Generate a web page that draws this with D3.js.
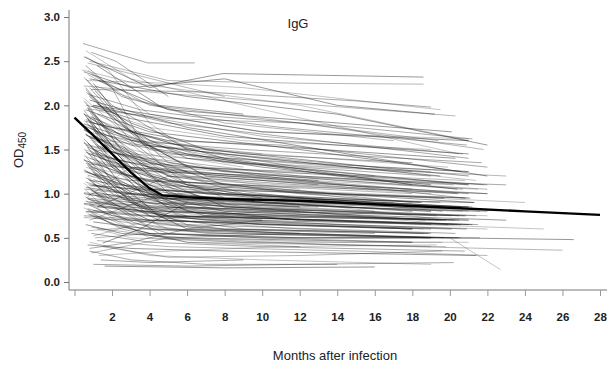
<!DOCTYPE html>
<html><head><meta charset="utf-8">
<script src="https://cdn.jsdelivr.net/npm/d3@7"></script>
<style>
html,body{margin:0;padding:0;background:#fff;}
svg{display:block;}
.tk text{font-family:"Liberation Sans Narrow","Arial Narrow","Liberation Sans",sans-serif;font-weight:bold;font-size:11.5px;fill:#222;}
</style></head>
<body><svg id="c" width="607" height="365"></svg>
<script>
const title = "IgG";
const xLabel = "Months after infection";
const xTicks = [0,2,4,6,8,10,12,14,16,18,20,22,24,26,28];
const yTicks = [0.0,0.5,1.0,1.5,2.0,2.5,3.0];
// each subject: month, OD450 pairs
const subjectsHigh = [
[0.45,2.70,3.9,2.48,6.4,2.48],[0.6,2.62,3,2.3,8,2.05,20.5,1.45],[0.5,2.55,4,2.2,7.9,2.36,18.6,2.32],
[0.8,2.50,5,2.28,12,2.25,18.6,2.24],[0.6,2.45,2.5,2.1,6,1.9,15,1.75,21.2,1.62],[0.7,2.40,4,1.9,10,1.7,21,1.62],
[0.5,2.38,3,2.2,8,2.3,14,2.0,19.2,1.9],[0.9,2.35,4,2.0,12,1.8,21.8,1.5],[0.6,2.30,2,2.0,6,1.5,12,1.3,19,1.2],
[0.7,2.28,5,2.25,9,2.2,19.5,1.95],[1.0,2.25,3,1.7,8,1.4,18,1.1],[0.5,2.22,4,2.15,10,2.05,20.3,1.88],
[0.8,2.20,2.5,1.8,5,1.35,10,1.2,20.8,0.95],[0.6,2.55,1.8,2.4,4,1.8,6,1.5],[1.2,2.45,4.5,2.0,9,1.9],
[0.7,2.35,2,2.2,3.5,1.6,7,1.2,16,1.05],[0.9,2.60,2.2,2.5,5,2.1],[0.4,2.40,3.2,2.25,12,2.0,21,1.6],
[0.8,2.30,6,2.1,14,1.9,22,1.55],[1.1,2.22,3.5,2.05,8,1.8,17,1.6],[0.6,2.20,3,1.6,6,1.1,12,0.95,19.6,0.8],
[0.5,2.32,2,1.95,4.5,1.45,9,1.3],[1.3,2.28,5,1.95,11,1.85,20.1,1.7],[0.7,2.48,6,2.2,8,2.1],
[0.9,2.18,7,2.15,15,2.05,19,1.98]
];
const subjectsMidHigh = [
[0.6,2.15,3,1.7,8,1.45,21.4,1.15],[0.8,2.10,4,1.5,10,1.3,19,1.1],[0.5,2.05,2,1.65,5,1.2,12,1.0,18.4,0.9],
[1.0,2.00,5,1.8,13,1.6,21,1.4],[0.7,1.98,3,1.35,6,0.95,14,0.85,19.8,0.7],[0.6,1.95,4,1.7,12,1.5,20.6,1.25],
[0.9,1.92,2.5,1.5,6,1.2,18,1.05],[0.5,1.90,3,1.6,9,1.5,21.7,1.35],[1.1,1.88,4,1.4,8,1.1,17,0.9],
[0.7,1.85,2,1.55,4,1.2,8,0.85,19.3,0.75],[0.6,2.18,1.8,1.9,4,1.55,6,1.3],[0.8,2.12,3.5,1.95,11,1.75,20.9,1.55],
[0.5,2.08,2.3,1.75,5.5,1.55,10,1.45],[1.2,2.02,3,1.8,7,1.5,16,1.3,21,1.2],[0.7,1.96,5,1.85,12,1.8,19.4,1.6],
[0.9,1.93,3,1.45,5,1.0,10,0.9,19,0.8],[0.6,1.89,4,1.6,8,1.35,18,1.25],[0.8,1.86,2,1.7,6,1.45,14,1.2,20.4,1.05],
[0.5,1.83,3.5,1.25,7,1.0,18.8,0.85],[1.0,1.80,5,1.6,11,1.55,22,1.3],[0.7,1.78,2.5,1.4,4.5,0.9,12,0.8,20.2,0.65],
[0.6,1.76,3,1.55,9,1.35,21,1.1],[0.9,1.74,4,1.35,6,1.25],[0.5,1.72,2,1.55,5,1.15,14,1.0,19.7,0.95],
[1.1,2.16,2.5,1.85,4.5,1.35,8,1.1],[0.8,2.06,6,1.75,16,1.4,22,1.2],[0.6,2.00,3,1.9,10,1.65,20.7,1.45],
[0.7,1.97,1.8,1.6,3.5,1.1,6,0.8,12,0.7],[1.3,1.94,4,1.75,9,1.6,19,1.5],[0.5,1.91,2.2,1.4,4,1.05,10,0.95,21.3,0.9],
[0.9,1.87,3,1.65,7,1.2,13,1.1],[0.6,1.84,5,1.45,12,1.35,21,1.25],[0.8,1.81,2.8,1.2,5.5,0.75,14,0.65,18.6,0.6],
[0.5,1.79,3.8,1.55,10,1.4,19.5,1.2],[1.0,1.75,2,1.3,4,0.95,8,0.9],[0.7,2.14,4,1.6,9,1.45,18,1.35],
[0.6,2.04,2.5,1.5,5,1.25,11,1.15,20.5,1.0],[0.9,1.99,3,1.85,8,1.65,14,1.55,21,1.45],[0.5,1.95,1.8,1.55,4.2,1.3,9,1.0,19.1,0.85],
[1.2,1.90,6,1.4,16,1.2],[0.7,1.86,3,1.3,7,1.15,19,1.0],[0.6,1.82,2,1.75,6,1.6,20.3,1.4],
[0.8,1.77,4,1.3,8,0.95,21.6,0.8],[0.5,1.73,2.6,1.45,5.5,1.3,12,1.25,22,1.1],[1.0,1.71,3.5,1.55,19.9,1.3]
];
const subjectsMid = [
[0.6,1.68,3,1.2,8,1.0,20.6,0.85],[0.8,1.65,4,1.4,12,1.2,21,1.1],[0.5,1.62,2,1.3,5,0.9,12,0.8,18.7,0.7],
[1.0,1.60,3,1.45,9,1.35,19,1.25],[0.7,1.58,2.5,1.1,4.5,0.75,10,0.65,18,0.6],[0.6,1.55,5,1.3,14,1.15,22,1.05],
[0.9,1.52,3,1.25,7,1.05,21.1,0.95],[0.5,1.50,2,1.4,6,1.2,12,1.05],[1.1,1.48,4,1.0,8,0.8,19.6,0.7],
[0.7,1.45,3,1.35,10,1.25,20.8,1.15],[0.6,1.42,2.2,1.05,4,0.75,9,0.6,19,0.55],[0.8,1.40,5,1.15,12,1.0,21,0.95],
[0.5,1.38,3,1.2,7,0.95,18,0.8],[1.2,1.35,4,1.25,11,1.2,20.2,1.1],[0.7,1.32,2,1.0,5,0.75,14,0.7,21.5,0.65],
[0.6,1.30,3.5,1.1,8,1.0,19.3,0.85],[0.9,1.28,2.5,0.95,6,0.6,12,0.55],[0.5,1.25,4,1.0,10,0.9,19,0.8],
[1.0,1.22,3,1.15,9,1.1,22,1.0],[0.7,1.20,2,0.9,4.5,0.65,11,0.55,20.4,0.5],[0.6,1.67,2,1.5,4,1.1,6,0.95],
[0.8,1.63,3.5,1.55,8,1.45,16,1.3,21,1.25],[0.5,1.59,1.8,1.2,3.5,0.85,8,0.75,19.8,0.7],[1.1,1.56,5,1.2,10,1.05,20.9,0.95],
[0.7,1.53,3,1.3,6,1.25,13,1.15],[0.6,1.49,2.8,0.95,5,0.7,12,0.6,18.9,0.55],[0.9,1.46,4,1.3,14,1.1,22,1.0],
[0.5,1.43,2,1.3,5,1.0,9,0.85,20.1,0.75],[1.3,1.41,6,1.1,21.3,0.9],[0.7,1.37,3,1.05,7,0.9,16,0.8],
[0.6,1.34,4.5,1.25,12,1.15,21,1.0],[0.8,1.31,2.2,1.1,4,0.85,10,0.75,19,0.7],[0.5,1.27,3,1.0,8,0.85,20.5,0.75],
[1.0,1.24,5,0.95,12,0.85],[0.7,1.21,2.5,1.1,7,1.0,19.5,0.9],[0.6,1.66,3,1.5,7,1.3,21.8,1.1],
[0.9,1.61,2,1.35,3.8,0.95,7,0.75,19,0.65],[0.5,1.57,4,1.35,11,1.2,20.7,1.05],[1.2,1.54,3,1.4,6,1.1,10,0.95],
[0.7,1.51,2.5,1.25,5,0.95,14,0.85,21,0.8],[0.6,1.47,5,1.1,9,1.0,18.5,0.9],[0.8,1.44,2,1.25,4,1.15,18,1.0],
[0.5,1.39,3,0.9,6,0.65,20.3,0.55],[1.0,1.36,4,1.1,13,1.0,19.7,0.95],[0.7,1.33,2,1.2,5,0.85,12,0.7,21.2,0.65]
];
const subjectsLowMid = [
[0.6,1.18,3,0.95,8,0.8,19.4,0.7],[0.8,1.15,4,1.05,12,0.95,21,0.85],[0.5,1.12,2,0.85,5,0.6,12,0.55,20.6,0.5],
[1.0,1.10,3,1.0,9,0.95,19,0.85],[0.7,1.08,2.5,0.8,4.5,0.55,10,0.5,18,0.45],[0.6,1.05,5,0.95,14,0.85,22,0.8],
[0.9,1.03,3,0.85,7,0.75,20.2,0.7],[0.5,1.00,2,0.95,6,0.85,12,0.8],[1.1,0.98,4,0.7,8,0.6,18.8,0.55],
[0.7,0.95,3,0.9,10,0.85,21.4,0.75],[0.6,0.92,2.2,0.7,4,0.5,9,0.45,19,0.4],[0.8,0.90,5,0.8,12,0.75,21,0.7],
[0.5,0.88,3,0.8,7,0.7,18,0.6],[1.2,0.85,4,0.8,11,0.75,20.5,0.7],[0.7,0.82,2,0.65,5,0.5,14,0.45,19.6,0.45],
[0.6,0.80,3.5,0.75,8,0.7,20.9,0.6],[0.9,0.78,2.5,0.6,6,0.45,12,0.4],[0.5,0.75,4,0.7,10,0.65,19,0.6],
[1.0,0.72,3,0.7,9,0.68,22,0.6],[0.7,1.17,2,0.95,4.5,0.7,11,0.65,20.1,0.6],[0.6,1.13,2,1.05,4,0.85,6,0.75],
[0.8,1.09,3.5,1.05,8,1.0,16,0.9,21,0.85],[0.5,1.06,1.8,0.8,3.5,0.6,8,0.55,19.2,0.5],[1.1,1.02,5,0.85,10,0.8,20.8,0.75],
[0.7,0.99,3,0.95,6,0.9,13,0.85],[0.6,0.96,2.8,0.7,5,0.55,12,0.5,21.6,0.5],[0.9,0.93,4,0.85,14,0.8,22,0.75],
[0.5,0.89,2,0.85,5,0.75,9,0.7,19.9,0.65],[1.3,0.86,6,0.75,20.4,0.65],[0.7,0.83,3,0.7,7,0.6,16,0.55],
[0.6,0.79,4.5,0.8,12,0.75,21,0.7],[0.8,0.76,2.2,0.65,4,0.55,10,0.5,19,0.5],[0.5,0.73,3,0.7,8,0.6,18.6,0.55],
[1.0,1.16,5,0.9,12,0.85],[0.7,1.11,2.5,1.0,7,0.9,20.7,0.8],[0.6,1.07,3,1.0,7,0.95,19.5,0.85],
[0.9,1.04,2,0.9,3.8,0.65,7,0.55,19,0.5],[0.5,1.01,4,0.95,11,0.9,21.2,0.85],[1.2,0.97,3,0.9,6,0.8,10,0.7],
[0.7,0.94,2.5,0.85,5,0.75,14,0.7,21,0.65],[0.6,0.91,5,0.85,9,0.8,20.3,0.7],[0.8,0.87,2,0.75,4,0.7,18,0.6],
[0.5,0.84,3,0.6,6,0.45,19.8,0.4],[1.0,0.81,4,0.75,13,0.7,20.6,0.65],[0.7,0.77,2,0.7,5,0.6,12,0.55,18.9,0.5]
];
const subjectsLow = [
[1.0,0.20,6,0.18,12,0.2,20.2,0.22],[0.8,0.45,4,0.3,10,0.25,19,0.2],[0.7,0.42,3,0.38,8,0.35,21.4,0.3],
[1.5,0.40,5,0.28,12,0.3,19.6,0.35],[0.9,0.55,4,0.45,10,0.4,20.8,0.35],[1.2,0.60,3,0.5,9,0.45,21,0.45],
[0.6,0.65,2.5,0.55,6,0.5,18,0.45],[1.1,0.50,4,0.55,12,0.5,20.5,0.5],[0.8,0.35,3,0.25,7,0.2,14,0.2],
[1.3,0.30,5,0.35,11,0.4,19.3,0.42],[1.0,0.68,4,0.6,10,0.55,20,0.5,26.6,0.48],[0.9,0.62,5,0.5,14,0.42,26,0.36],
[1.4,0.25,4,0.22,9,0.25],[0.7,0.58,3,0.62,8,0.55,20,0.5,22.7,0.14],[1.6,0.18,8,0.16,16,0.17],
[1.2,0.47,5,0.4,15,0.35,22,0.3],[0.8,0.38,3,0.45,6,0.6,10,0.7],[1.0,0.52,4,0.7,10,0.8,20.9,0.75],
[1.5,0.44,3.5,0.6,6,0.9],[0.9,0.33,5,0.5,12,0.55,19.7,0.5]
];
const subjectsLate = [
[1.0,1.5,8,1.25,16,1.15,23,1.1],[0.8,1.3,6,1.05,14,1.0,24,0.9],[1.0,2.0,10,1.7,21,1.6],
[0.7,1.7,8,1.4,18,1.25,23,1.2],[0.9,1.1,10,0.9,24,0.8],[1.1,0.9,12,0.7,25,0.6],
[0.6,1.25,6,0.85,16,0.75,23,0.7],[0.8,0.7,4,0.95,9,1.1,18,0.9],[1.2,0.85,5,1.2,12,1.1,20.4,1.0],
[0.6,0.95,3,1.3,8,1.2,21.5,1.05]
];
const meanMonths = [0,1,2,3,4,4.7,6,8,12,16,20,24,28];
const meanValues = [1.86,1.66,1.45,1.24,1.06,0.98,0.96,0.94,0.92,0.88,0.84,0.80,0.76];

const svg = d3.select("#c");
const x = d3.scaleLinear().domain([0,28]).range([74.5,600]);
const y = d3.scaleLinear().domain([0,3]).range([282,17]);

const all = [].concat(subjectsHigh,subjectsMidHigh,subjectsMid,subjectsLowMid,subjectsLow,subjectsLate);
const toPts = a => { const p=[]; for(let i=0;i<a.length;i+=2) p.push([a[i],a[i+1]]); return p; };
const line = d3.line().x(d=>x(d[0])).y(d=>y(d[1]));

svg.append("g").selectAll("path").data(all).join("path")
  .attr("d", d=>line(toPts(d)))
  .attr("fill","none").attr("stroke","#1a1a1a")
  .attr("stroke-width",0.75).attr("stroke-opacity",(d,i)=>[0.5,0.35,0.6,0.42][i%4]);

svg.append("path")
  .attr("d", line(meanMonths.map((m,i)=>[m,meanValues[i]])))
  .attr("fill","none").attr("stroke","#000").attr("stroke-width",2.4);

// axes
const ya = svg.append("g").attr("class","tk").attr("transform","translate(69,0)")
  .call(d3.axisLeft(y).tickValues(yTicks).tickFormat(d3.format(".1f")).tickSize(5).tickPadding(4));
ya.select(".domain").attr("d","M0,10V290").attr("stroke","#777");
ya.selectAll(".tick line").attr("stroke","#777");

const xa = svg.append("g").attr("class","tk").attr("transform","translate(0,290)")
  .call(d3.axisBottom(x).tickValues(xTicks).tickFormat(d=>d===0?"":d).tickSize(6).tickPadding(17));
xa.select(".domain").attr("d","M69,0H607").attr("stroke","#777");
xa.selectAll(".tick line").attr("stroke","#999");

svg.append("text").attr("x",298).attr("y",28).attr("text-anchor","middle")
  .attr("font-family","Liberation Sans Narrow, Arial Narrow, Liberation Sans, sans-serif")
  .attr("font-size",13).attr("fill","#222").text(title);

svg.append("text").attr("x",335).attr("y",360).attr("text-anchor","middle")
  .attr("font-family","Liberation Sans Narrow, Arial Narrow, Liberation Sans, sans-serif")
  .attr("font-size",13).attr("fill","#222").text(xLabel);

const yl = svg.append("text").attr("transform","translate(23,150) rotate(-90)").attr("text-anchor","middle")
  .attr("font-family","Liberation Sans Narrow, Arial Narrow, Liberation Sans, sans-serif")
  .attr("font-size",13).attr("fill","#222");
yl.append("tspan").text("OD");
yl.append("tspan").attr("font-size",10).attr("dy",3).text("450");
</script></body></html>
